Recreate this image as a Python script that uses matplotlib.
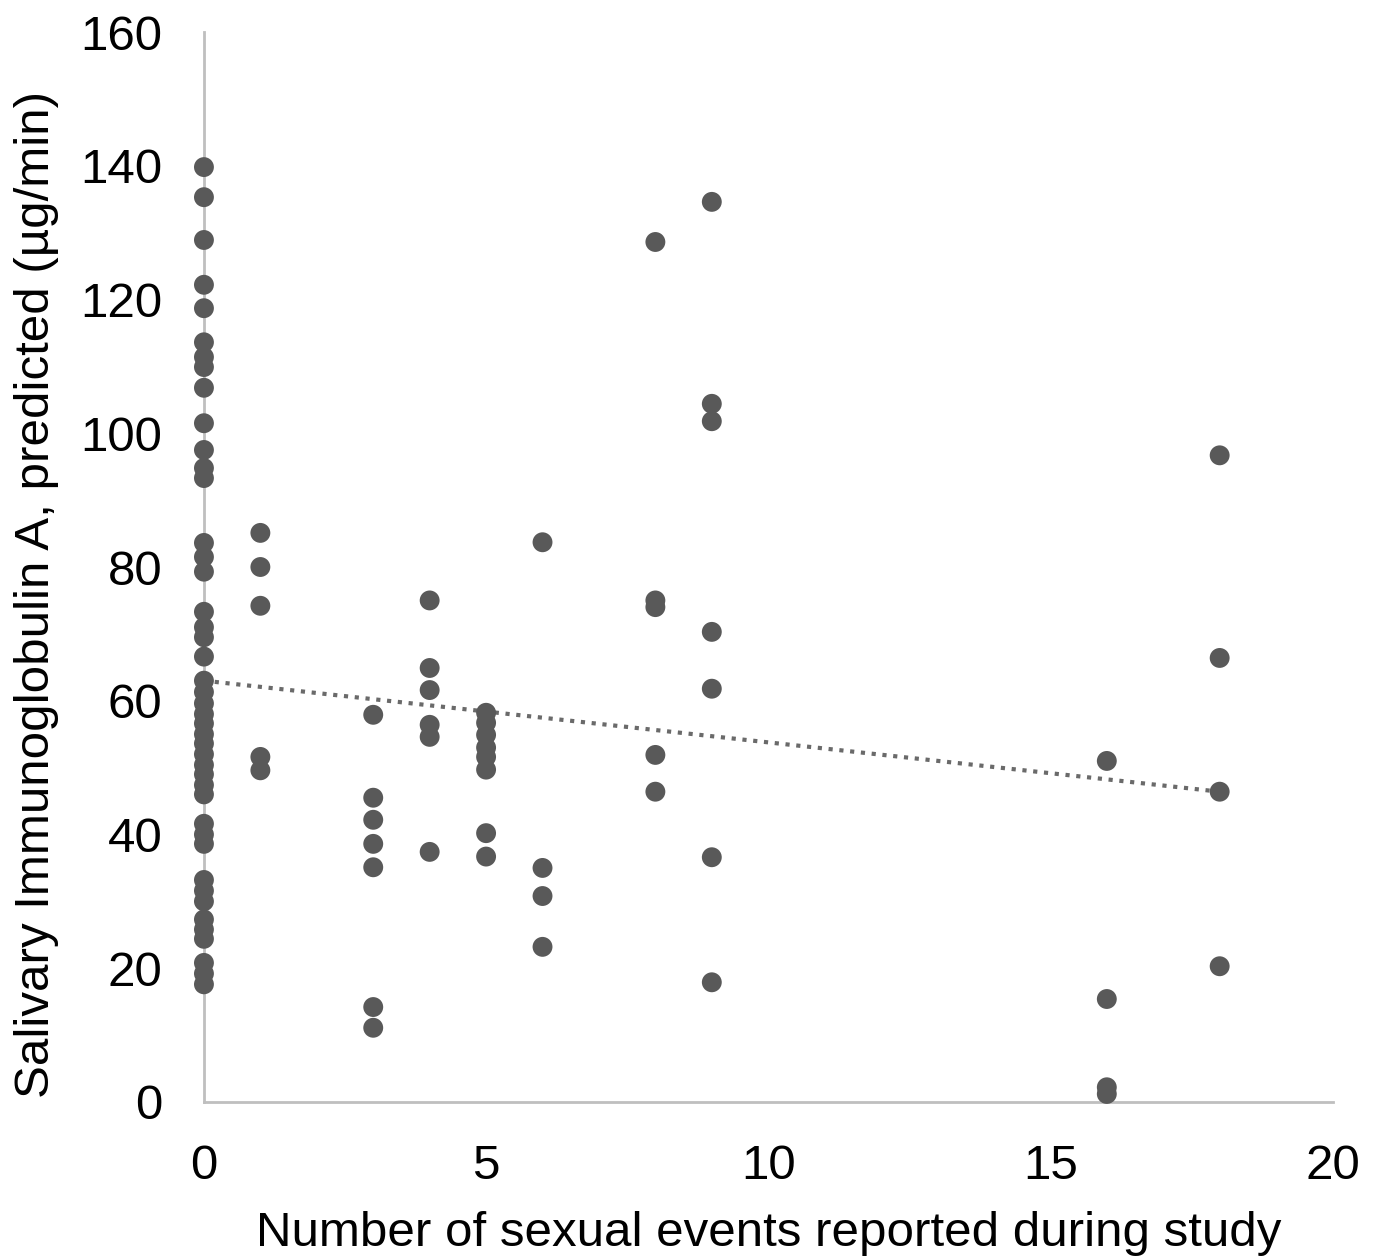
"""Scatter of salivary IgA vs number of sexual events, with a linear trendline."""

import matplotlib

matplotlib.use("Agg")
import matplotlib.pyplot as plt
import numpy as np

# x = number of sexual events reported; y = predicted salivary IgA (ug/min)
events_0 = [139.8, 135.3, 128.9, 122.2, 118.7, 113.6, 111.4, 109.9, 106.8, 101.5,
            97.5, 94.8, 93.3, 83.6, 81.5, 79.3, 73.3, 71.0, 69.5, 66.6,
            63.0, 61.3, 59.6, 58.0, 56.6, 55.0, 53.6, 52.0, 50.4, 49.0,
            47.4, 46.0, 41.6, 40.0, 38.6, 33.2, 31.6, 30.0, 27.3, 25.8,
            24.4, 20.8, 19.2, 17.6]
events_1 = [85.1, 80.0, 74.2, 51.6, 49.6]
events_3 = [57.9, 45.5, 42.2, 38.6, 35.1, 14.2, 11.1]
events_4 = [75.0, 64.9, 61.6, 56.4, 54.6, 37.4]
events_5 = [58.2, 56.7, 54.9, 53.0, 51.6, 49.7, 40.2, 36.7]
events_6 = [83.7, 35.0, 30.8, 23.2]
events_8 = [128.6, 75.0, 74.0, 51.9, 46.4]
events_9 = [134.6, 104.4, 101.8, 70.3, 61.8, 36.6, 17.9]
events_16 = [51.0, 15.4, 2.2, 1.2]
events_18 = [96.7, 66.4, 46.4, 20.3]

# linear trendline as drawn in the source figure
trend_x = [0, 18]
trend_y = [63.0, 46.4]

groups = {0: events_0, 1: events_1, 3: events_3, 4: events_4, 5: events_5,
          6: events_6, 8: events_8, 9: events_9, 16: events_16, 18: events_18}

x = np.concatenate([[k] * len(v) for k, v in groups.items()]).astype(float)
y = np.concatenate([v for v in groups.values()])

plt.rcParams["font.family"] = ["Liberation Sans", "DejaVu Sans"]

fig = plt.figure(figsize=(13.78, 12.6), dpi=100)
ax = fig.add_axes([0.148, 0.1254, 0.8190, 0.8492])

ax.scatter(x, y, s=205, color="#595959", edgecolors="none", zorder=3, clip_on=False)

ax.plot(trend_x, trend_y, linestyle=(0, (1, 1.6)), linewidth=3,
        color="#6a6a6a", zorder=2)

ax.set_xlim(0, 20)
ax.set_ylim(0, 160)
ax.set_xticks(range(0, 21, 5))
ax.set_yticks(range(0, 161, 20))
ax.tick_params(length=0, labelsize=35.5, colors="black", pad=30)

for side in ("top", "right"):
    ax.spines[side].set_visible(False)
for side in ("left", "bottom"):
    ax.spines[side].set_color("#bfbfbf")
    ax.spines[side].set_linewidth(2)

ax.set_xlabel("Number of sexual events reported during study", fontsize=35.5, labelpad=16)
ax.set_ylabel("Salivary Immunoglobulin A, predicted (\u00b5g/min)", fontsize=35.5)
ax.yaxis.set_label_coords(-0.128, 0.474)

fig.savefig("out.png", dpi=100, facecolor="white")
